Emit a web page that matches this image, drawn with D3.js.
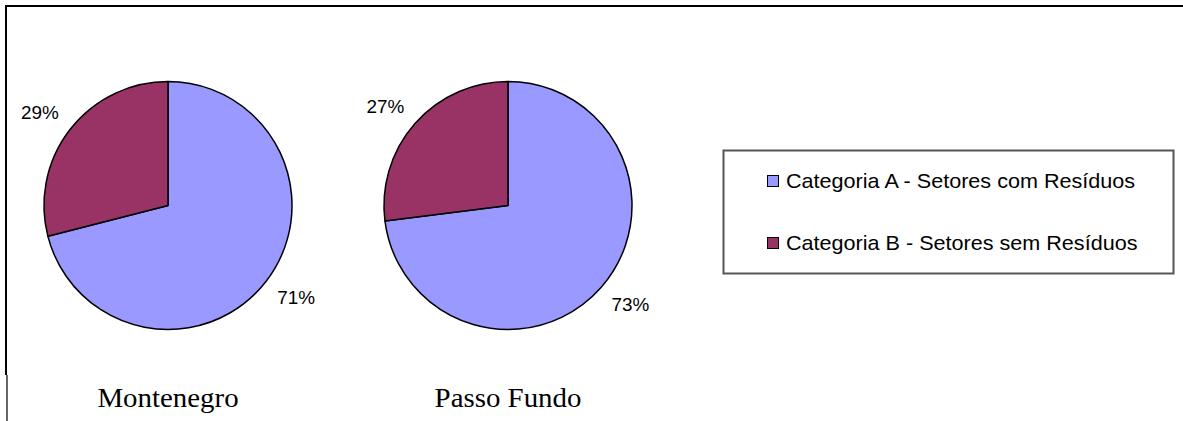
<!DOCTYPE html>
<html>
<head>
<meta charset="utf-8">
<script src="https://cdn.jsdelivr.net/npm/d3@7"></script>
<style>
  html, body { margin: 0; padding: 0; background: #fff; }
  svg { display: block; }
</style>
</head>
<body>
<svg id="chart" width="1183" height="421"></svg>
<script>
const regions = ["Montenegro", "Passo Fundo"];
const categories = ["Categoria A - Setores com Resíduos", "Categoria B - Setores sem Resíduos"];
const valuesA = [71, 73];
const valuesB = [29, 27];
const colors = ["#9999FF", "#993366"];

const svg = d3.select("#chart");

// frame lines
svg.append("line").attr("x1", 5).attr("x2", 1183).attr("y1", 6).attr("y2", 6)
  .attr("stroke", "#000").attr("stroke-width", 2);
svg.append("line").attr("x1", 6).attr("x2", 6).attr("y1", 5).attr("y2", 375)
  .attr("stroke", "#000").attr("stroke-width", 2);
svg.append("line").attr("x1", 7).attr("x2", 7).attr("y1", 375).attr("y2", 421)
  .attr("stroke", "#333").attr("stroke-width", 1.5);

const x = d3.scalePoint().domain(regions).range([168, 508]);
const cy = 205.5;
const r = 124;

const pie = d3.pie().sort(null).value(d => d.value);
const arc = d3.arc().innerRadius(0).outerRadius(r);
const labelArc = d3.arc().innerRadius(138).outerRadius(138);
const color = d3.scaleOrdinal().domain(categories).range(colors);

function labelPos(d) {
  const [lx, ly] = labelArc.centroid(d);
  return [lx + Math.sign(lx) * 19, ly + Math.sign(ly) * 8];
}

regions.forEach((reg, i) => {
  const data = [
    { cat: categories[0], value: valuesA[i] },
    { cat: categories[1], value: valuesB[i] }
  ];
  const g = svg.append("g").attr("transform", `translate(${x(reg)},${cy})`);
  const arcs = pie(data);
  g.selectAll("path").data(arcs).join("path")
    .attr("d", arc)
    .attr("fill", d => color(d.data.cat))
    .attr("stroke", "#000")
    .attr("stroke-width", 1.5)
    .attr("stroke-linejoin", "round");
  g.selectAll("text.pct").data(arcs).join("text")
    .attr("class", "pct")
    .attr("transform", d => `translate(${labelPos(d)}) scale(1.08,1)`)
    .attr("text-anchor", "middle")
    .attr("dy", "0.36em")
    .attr("font-family", "Liberation Sans, Arial, sans-serif")
    .attr("font-size", 17.5)
    .attr("fill", "#000")
    .text(d => d.data.value + "%");
  svg.append("text")
    .attr("transform", `translate(${x(reg)},406.5) scale(1.07,1)`)
    .attr("text-anchor", "middle")
    .attr("font-family", "Liberation Serif, Times New Roman, serif")
    .attr("font-size", 27)
    .attr("fill", "#000")
    .text(reg);
});

// legend
const lg = svg.append("g");
lg.append("rect").attr("x", 723.5).attr("y", 150.5).attr("width", 450).attr("height", 123)
  .attr("fill", "#fff").attr("stroke", "#555").attr("stroke-width", 2);
const ly = d3.scalePoint().domain(categories).range([181, 243]);
categories.forEach(c => {
  lg.append("rect").attr("x", 767.5).attr("y", ly(c) - 5.5).attr("width", 11).attr("height", 11)
    .attr("fill", color(c)).attr("stroke", "#000").attr("stroke-width", 1);
  lg.append("text").attr("transform", `translate(786,${ly(c)}) scale(1.08,1)`).attr("dy", "0.36em")
    .attr("font-family", "Liberation Sans, Arial, sans-serif")
    .attr("font-size", 20)
    .attr("fill", "#000")
    .text(c);
});
</script>
</body>
</html>
